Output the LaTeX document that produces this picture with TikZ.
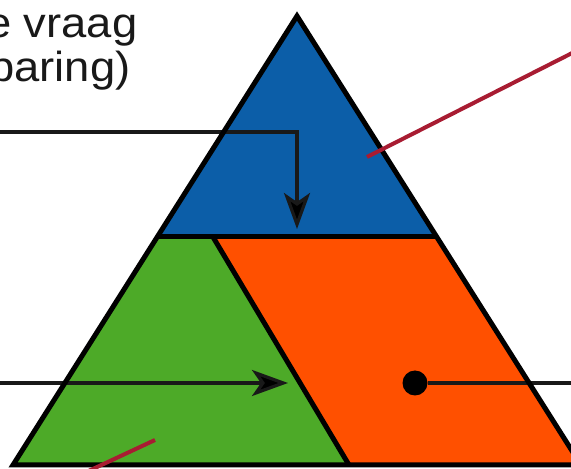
\documentclass[tikz,border=0pt]{standalone}
\usepackage{fontspec}
\setmainfont{Liberation Sans}[FakeStretch=1.08]
\usetikzlibrary{arrows.meta}
\definecolor{topblue}{RGB}{12,94,168}
\definecolor{leftgreen}{RGB}{77,170,40}
\definecolor{rightorange}{RGB}{255,80,0}
\definecolor{pointer}{RGB}{168,28,50}
\definecolor{txt}{RGB}{25,25,25}
\tikzset{
  outline/.style={line width=5pt, line join=miter, draw=black},
  flowline/.style={line width=3.2pt, draw=black!90},
  headline/.style={flowline, -{Stealth[length=36pt,width=26pt,inset=9pt,fill=black]}},
  redline/.style={line width=4pt, draw=pointer},
  label/.style={font=\fontsize{42}{44}\selectfont, text=txt, inner sep=0pt, anchor=base west},
  dotnode/.style={circle, fill=black, minimum size=25pt, inner sep=0pt}
}
\begin{document}
\begin{tikzpicture}[x=1pt,y=1pt]
\clip (0,0) rectangle (571,469);
% corners
\coordinate (apex) at (297,453);
\coordinate (bl) at (13,4);
\coordinate (br) at (581,4);
\coordinate (d1) at (157,232);
\coordinate (d2) at (437,232);
\coordinate (s1) at (213,232);
\coordinate (s2) at (349,4);
% fills
\fill[topblue] (apex) -- (d1) -- (d2) -- cycle;
\fill[leftgreen] (d1) -- (s1) -- (s2) -- (bl) -- cycle;
\fill[rightorange] (s1) -- (d2) -- (br) -- (s2) -- cycle;
% text
\node[label] (t1) at (-14,431) {e vraag};
\node[label] (t2) at (-11,387) {paring)};
% flow lines
\coordinate (inA) at (-5,337);
\coordinate (bendA) at (297,337);
\coordinate (tipA) at (297,240);
\draw[headline] (inA) -- (bendA) -- (tipA);
\coordinate (inB) at (-5,86);
\coordinate (tipB) at (288,86);
\draw[headline] (inB) -- (tipB);
\node[dotnode] (dot) at (415,86) {};
\coordinate (outC) at (580,86);
\draw[flowline] (dot) -- (outC);
% outlines
\draw[outline] (apex) -- (br) -- (bl) -- cycle;
\draw[outline] (d1) -- (d2);
\draw[outline] (s1) -- (s2);
% pointers
\coordinate (p1) at (367,312);
\coordinate (p1e) at (586,423);
\draw[redline] (p1) -- (p1e);
\coordinate (p2) at (155,29);
\coordinate (p2e) at (80,-6);
\draw[redline] (p2) -- (p2e);
\end{tikzpicture}
\end{document}
